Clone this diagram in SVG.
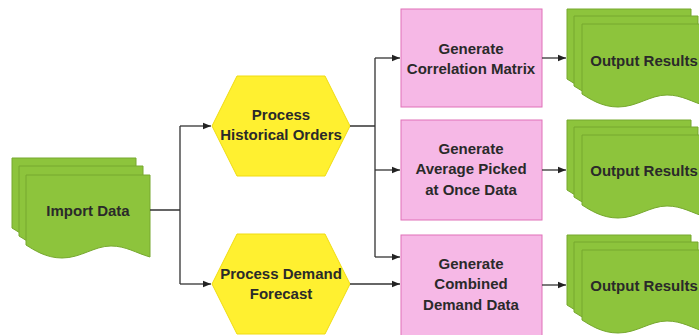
<svg xmlns="http://www.w3.org/2000/svg" xmlns:xlink="http://www.w3.org/1999/xlink" width="699" height="335" viewBox="0 0 699 335">
<style>
.doc{fill:#8DC43C;stroke:#76A82E;stroke-width:1}
.hex{fill:#FFF030;stroke:#F0DC10;stroke-width:1}
.box{fill:#F6B8E6;stroke:#E070B8;stroke-width:1}
.t{font-family:"Liberation Sans",Arial,sans-serif;font-weight:bold;font-size:15px;fill:#2a2a2a;text-anchor:middle;dominant-baseline:central}
.c{fill:none;stroke:#333;stroke-width:1.3}
</style>
<defs>
<path id="doc" d="M0,0 H124 V82 C110,78 100,71 85,71 C68,71 55,83 36,83 C20,83 8,75 0,70 Z"/>
<marker id="ah" viewBox="0 0 10 10" refX="10" refY="5" markerWidth="8" markerHeight="8" markerUnits="userSpaceOnUse" orient="auto">
<path d="M0,1 L10,5 L0,9 Z" fill="#222"/>
</marker>
</defs>
<g id="import">
<use xlink:href="#doc" class="doc" x="12" y="158"/>
<use xlink:href="#doc" class="doc" x="19" y="166"/>
<use xlink:href="#doc" class="doc" x="26" y="175"/>
<text class="t" x="88" y="210">Import Data</text>
</g>
<g id="hist">
<polygon class="hex" points="212,126 237,76 325,76 350,126 325,176 237,176"/>
<text class="t" x="281" y="114">Process</text>
<text class="t" x="281" y="134">Historical Orders</text>
</g>
<g id="demand">
<polygon class="hex" points="212,284 237,234 325,234 350,284 325,334 237,334"/>
<text class="t" x="281" y="273">Process Demand</text>
<text class="t" x="281" y="293">Forecast</text>
</g>
<g id="corr">
<rect class="box" x="401" y="9" width="141" height="98"/>
<text class="t" x="471" y="48">Generate</text>
<text class="t" x="471" y="68">Correlation Matrix</text>
</g>
<g id="avg">
<rect class="box" x="401" y="120" width="141" height="100"/>
<text class="t" x="471" y="148">Generate</text>
<text class="t" x="471" y="168">Average Picked</text>
<text class="t" x="471" y="189">at Once Data</text>
</g>
<g id="comb">
<rect class="box" x="401" y="235" width="141" height="102"/>
<text class="t" x="471" y="263">Generate</text>
<text class="t" x="471" y="283">Combined</text>
<text class="t" x="471" y="304">Demand Data</text>
</g>
<g id="out1">
<use xlink:href="#doc" class="doc" x="567" y="9"/>
<use xlink:href="#doc" class="doc" x="574" y="16"/>
<use xlink:href="#doc" class="doc" x="582" y="24"/>
<text class="t" x="644" y="60">Output Results</text>
</g>
<g id="out2">
<use xlink:href="#doc" class="doc" x="567" y="120"/>
<use xlink:href="#doc" class="doc" x="574" y="127"/>
<use xlink:href="#doc" class="doc" x="582" y="135"/>
<text class="t" x="644" y="170">Output Results</text>
</g>
<g id="out3">
<use xlink:href="#doc" class="doc" x="567" y="235"/>
<use xlink:href="#doc" class="doc" x="574" y="242"/>
<use xlink:href="#doc" class="doc" x="582" y="250"/>
<text class="t" x="644" y="285">Output Results</text>
</g>
<g id="connectors">
<path class="c" d="M150,210 H180 M180,126 V284"/>
<path class="c" d="M180,126 H211" marker-end="url(#ah)"/>
<path class="c" d="M180,284 H211" marker-end="url(#ah)"/>
<path class="c" d="M350,126 H375 M375,58 V257"/>
<path class="c" d="M375,58 H400" marker-end="url(#ah)"/>
<path class="c" d="M375,170 H400" marker-end="url(#ah)"/>
<path class="c" d="M375,257 H400" marker-end="url(#ah)"/>
<path class="c" d="M350,284 H400" marker-end="url(#ah)"/>
<path class="c" d="M542,58 H566" marker-end="url(#ah)"/>
<path class="c" d="M542,170 H566" marker-end="url(#ah)"/>
<path class="c" d="M542,285 H566" marker-end="url(#ah)"/>
</g>
</svg>
